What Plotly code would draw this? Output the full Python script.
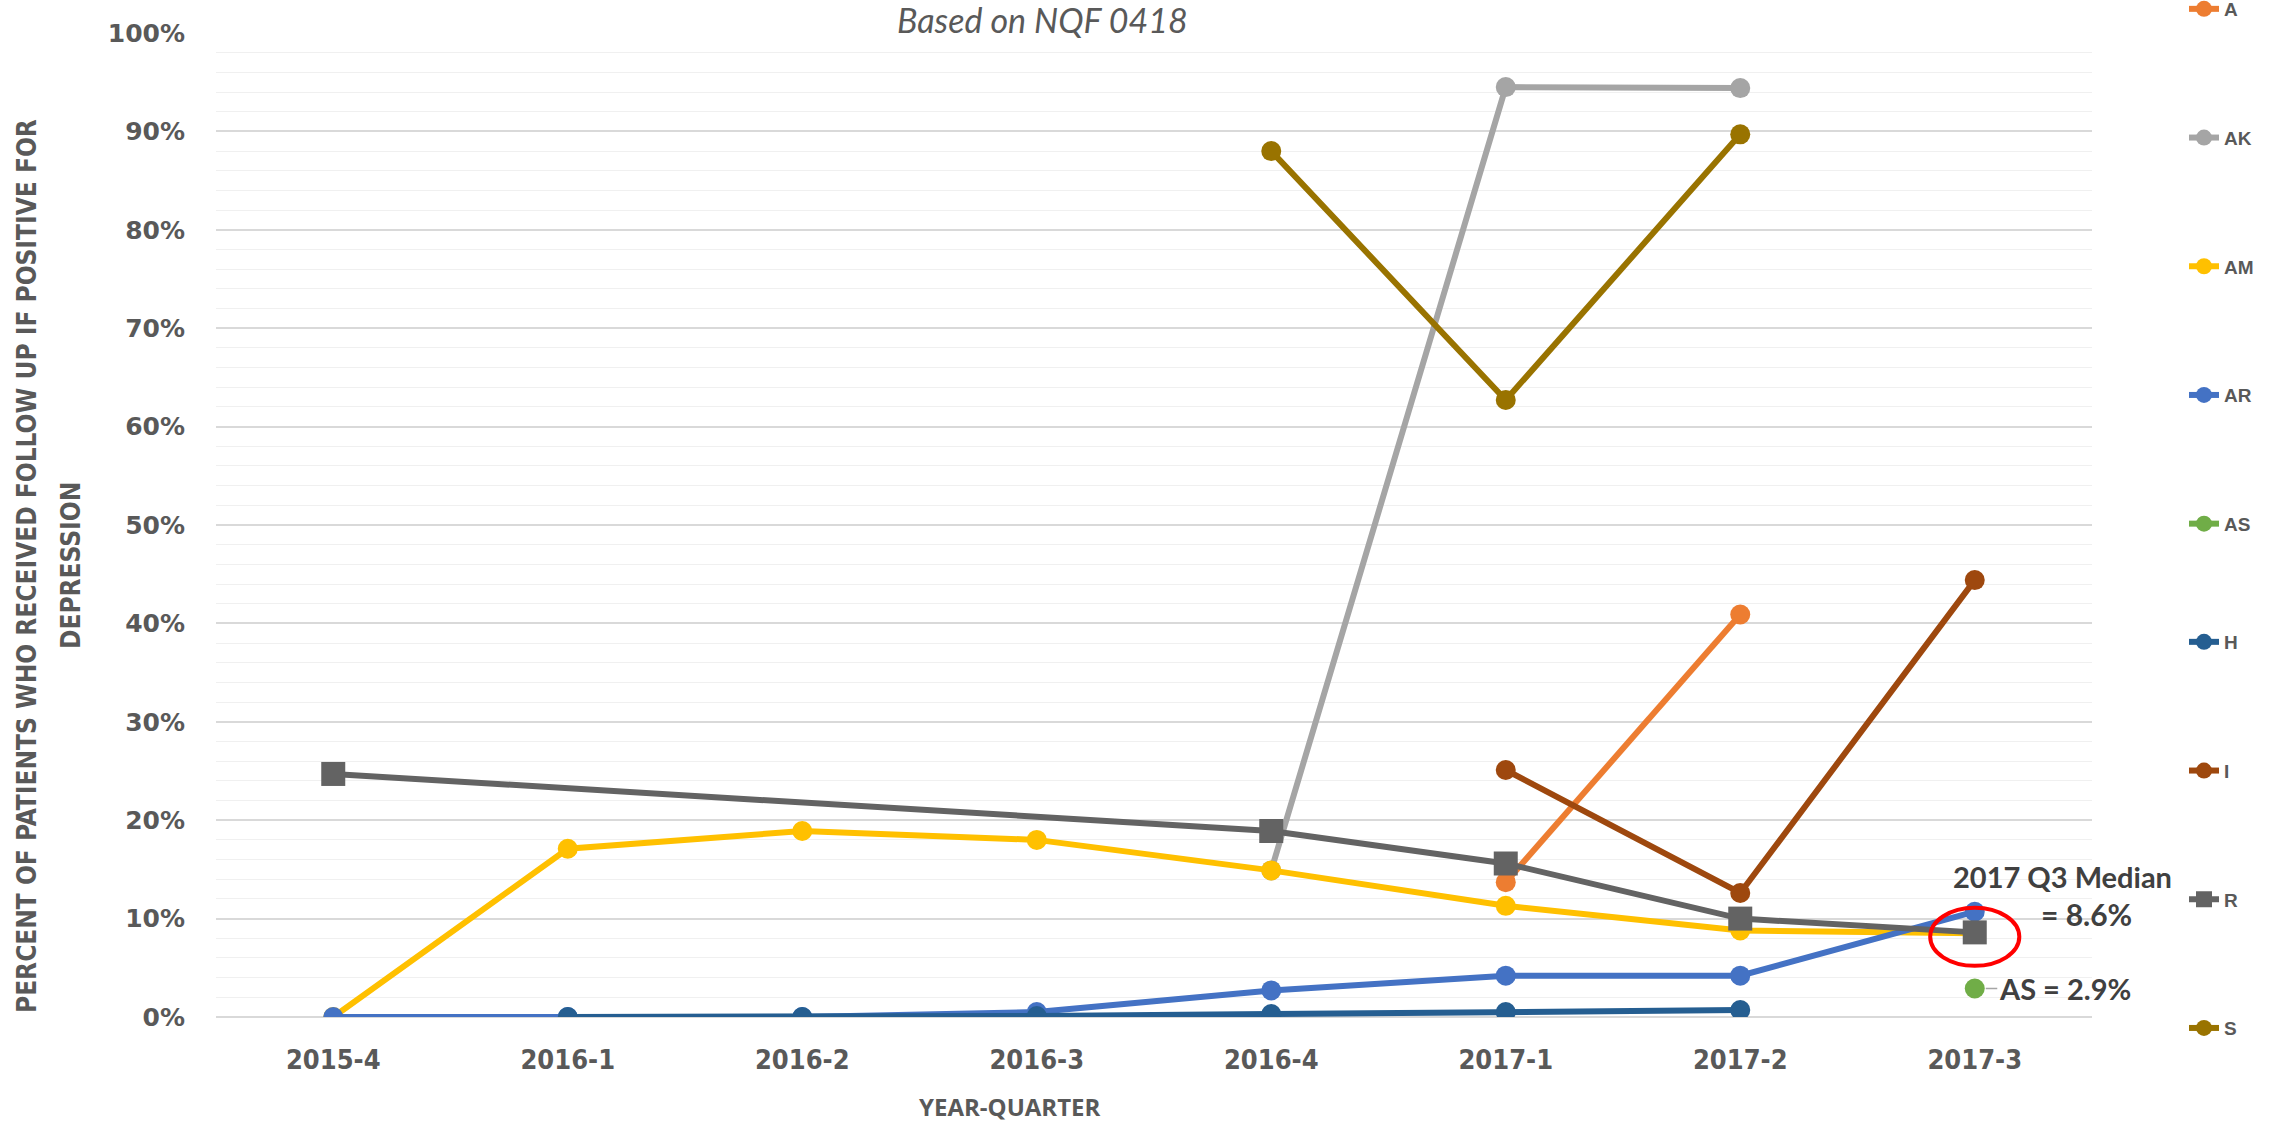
import plotly.graph_objects as go

quarters = ["2015-4", "2016-1", "2016-2", "2016-3", "2016-4", "2017-1", "2017-2", "2017-3"]

series_names = ["A", "AK", "AM", "AR", "AS", "H", "I", "R", "S"]
A  = [None, None, None, None, None, 0.137, 0.409, None]
AK = [None, None, None, None, 0.149, 0.945, 0.944, None]
AM = [0.0, 0.171, 0.189, 0.180, 0.149, 0.113, 0.088, 0.085]
AR = [0.0, 0.0, 0.0, 0.005, 0.027, 0.042, 0.042, 0.107]
AS = [None, None, None, None, None, None, None, 0.029]
H  = [None, 0.0, 0.0, 0.001, 0.003, 0.005, 0.007, None]
I  = [None, None, None, None, None, 0.251, 0.126, 0.444]
R  = [0.247, None, None, None, 0.189, 0.156, 0.100, 0.086]
S  = [None, None, None, None, 0.880, 0.627, 0.897, None]

values = [A, AK, AM, AR, AS, H, I, R, S]
colors = ["#ED7D31", "#A5A5A5", "#FFC000", "#4472C4", "#70AD47", "#255E91", "#9E480E", "#636363", "#997300"]

median_label = "2017 Q3 Median"
median_value = "= 8.6%"
as_label = "AS = 2.9%"

W, Hh = 2292, 1123
L, Rr, T, B = 216, 2092, 33, 1017


def px(x):
    return (x - L) / (Rr - L)


def py(y):
    return (B - y) / (B - T)


COND = "DejaVu Sans Condensed, Liberation Sans Narrow, DejaVu Sans"

fig = go.Figure()
for i, (name, vals, col) in enumerate(zip(series_names, values, colors)):
    sym = "square" if name == "R" else "circle"
    size = 24 if name == "R" else 20
    fig.add_trace(go.Scatter(
        x=quarters, y=vals, name=name, mode="lines+markers",
        line=dict(color=col, width=6),
        marker=dict(color=col, size=size, symbol=sym),
        connectgaps=(name == "R"),
        legendgroup=name,
        legend="legend" if i < 5 else "legend2",
    ))

tick_color = "#595959"
legend_font = dict(family="Liberation Sans, Arial", size=19, color=tick_color, weight="bold")
fig.update_layout(
    width=W, height=Hh,
    margin=dict(l=L, r=W - Rr, t=T, b=Hh - B, autoexpand=False),
    paper_bgcolor="white", plot_bgcolor="white",
    showlegend=True,
    legend=dict(
        x=px(2184), y=py(-10), xanchor="left", yanchor="top",
        font=legend_font, tracegroupgap=101, itemwidth=30,
        bgcolor="rgba(0,0,0,0)",
    ),
    legend2=dict(
        x=px(2184), y=py(623), xanchor="left", yanchor="top",
        font=legend_font, tracegroupgap=101, itemwidth=30,
        bgcolor="rgba(0,0,0,0)",
    ),
    xaxis=dict(
        type="category", categoryorder="array", categoryarray=quarters,
        range=[-0.5, 7.5], showgrid=False, zeroline=False, showline=False,
        ticks="", ticklabelstandoff=24,
        tickfont=dict(family=COND, size=27, color=tick_color, weight="bold"),
    ),
    yaxis=dict(
        range=[0, 1], dtick=0.1, tickformat=".0%",
        showgrid=True, gridcolor="#D9D9D9", gridwidth=1.5,
        zeroline=True, zerolinecolor="#D9D9D9", zerolinewidth=1.5,
        minor=dict(dtick=0.02, showgrid=True, gridcolor="#F0F0F0", gridwidth=1),
        ticks="", ticklabelstandoff=30,
        tickfont=dict(family="DejaVu Sans", size=25, color=tick_color, weight="bold"),
    ),
    font=dict(family="Lato", color="#404040"),
)

annotations = [
    dict(text="Based on NQF 0418", xref="paper", yref="paper", x=px(1042), y=py(19),
         xanchor="center", yanchor="middle", showarrow=False,
         font=dict(family="Lato", size=34, color=tick_color, style="italic")),
    dict(text="PERCENT OF PATIENTS WHO RECEIVED FOLLOW UP IF POSITIVE FOR", xref="paper", yref="paper",
         x=px(27), y=py(566), xanchor="center", yanchor="middle", textangle=-90, showarrow=False,
         font=dict(family=COND, size=26, color=tick_color, weight="bold")),
    dict(text="DEPRESSION", xref="paper", yref="paper",
         x=px(71), y=py(566), xanchor="center", yanchor="middle", textangle=-90, showarrow=False,
         font=dict(family=COND, size=26, color=tick_color, weight="bold")),
    dict(text="YEAR-QUARTER", xref="paper", yref="paper", x=px(1010), y=py(1106),
         xanchor="center", yanchor="middle", showarrow=False,
         font=dict(family="Open Sans", size=24, color=tick_color, weight="bold")),
    dict(text=median_label, xref="paper", yref="paper", x=px(2062), y=py(876),
         xanchor="center", yanchor="middle", showarrow=False,
         font=dict(family="Lato", size=29, color="#404040", weight="bold")),
    dict(text=median_value, xref="paper", yref="paper", x=px(2086), y=py(914),
         xanchor="center", yanchor="middle", showarrow=False,
         font=dict(family="Lato", size=30, color="#404040", weight="bold")),
    dict(text=as_label, x=quarters[7], y=AS[7], xref="x", yref="y",
         showarrow=True, ax=90, ay=0, arrowhead=0, arrowwidth=1.5, arrowcolor="#A5A5A5",
         standoff=11, xanchor="center", yanchor="middle",
         font=dict(family="Lato", size=29, color="#404040", weight="bold")),
]
fig.update_layout(annotations=annotations)

# red ellipse highlighting the median point
fig.add_shape(type="circle", xref="x", yref="y",
              x0=6.81, x1=7.19, y0=0.052, y1=0.111,
              line=dict(color="#FF0000", width=4))

fig.write_html("out.html")
